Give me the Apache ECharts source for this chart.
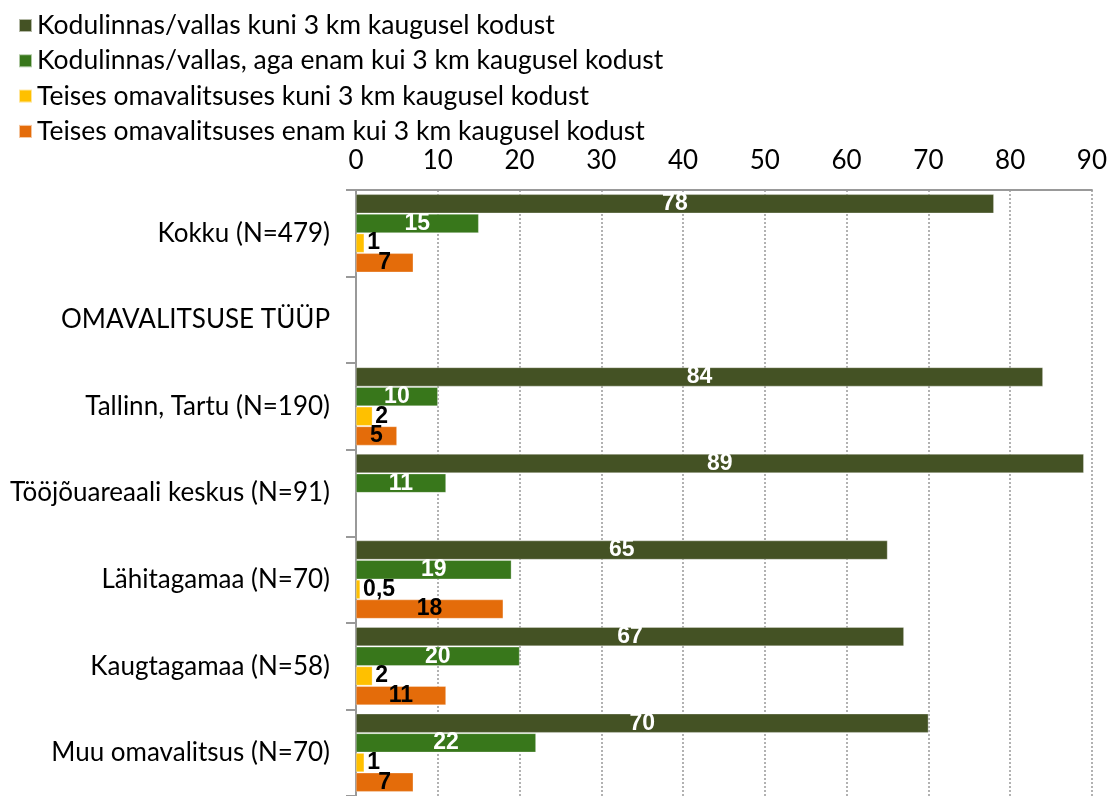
<!DOCTYPE html>
<html><head><meta charset="utf-8">
<script src="https://cdn.jsdelivr.net/npm/echarts@6/dist/echarts.min.js"></script>
<style>html,body{margin:0;padding:0;background:#fff}#c{width:1110px;height:796px}</style>
</head><body><div id="c"></div>
<script>
const categories = ["Kokku (N=479)", "OMAVALITSUSE TÜÜP", "Tallinn, Tartu (N=190)", "Tööjõuareaali keskus (N=91)", "Lähitagamaa (N=70)", "Kaugtagamaa (N=58)", "Muu omavalitsus (N=70)"];
const seriesNames = ["Kodulinnas/vallas kuni 3 km kaugusel kodust", "Kodulinnas/vallas, aga enam kui 3 km kaugusel kodust", "Teises omavalitsuses kuni 3 km kaugusel kodust", "Teises omavalitsuses enam kui 3 km kaugusel kodust"];
const s1 = [78, '-', 84, 89, 65, 67, 70];
const s2 = [15, '-', 10, 11, 19, 20, 22];
const s3 = [1, '-', 2, '-', 0.5, 2, 1];
const s4 = [7, '-', 5, '-', 18, 11, 7];
const xTicks = [0, 10, 20, 30, 40, 50, 60, 70, 80, 90];
const colors = ["#445224", "#38771b", "#ffc000", "#e46c0a"];

const chart = echarts.init(document.getElementById('c'));
const fmt = p => String(p.value).replace('.', ',');
function mk(i, data, labelColor, pos) {
  return {
    name: seriesNames[i], type: 'bar', data: data,
    barGap: '4%', barCategoryGap: '10%',
    itemStyle: {color: colors[i], borderColor: 'rgba(255,255,255,0.6)', borderWidth: 0.5},
    label: {show: true, position: pos, formatter: fmt, distance: 3,
      color: labelColor, fontFamily: 'Arial', fontWeight: 'bold', fontSize: 23},
    animation: false
  };
}
chart.setOption({
  animation: false,
  color: colors,
  legend: {
    orient: 'vertical', left: 18, top: 12, padding: 0, itemWidth: 13, itemHeight: 13, itemGap: 8.3,
    icon: 'rect',
    textStyle: {fontFamily: 'Lato', fontSize: 26.5, color: '#000'},
    data: seriesNames
  },
  grid: {left: 356, top: 190, width: 737, height: 612},
  xAxis: {
    type: 'value', position: 'top', min: 0, max: 90, interval: 10,
    axisLine: {show: true, lineStyle: {color: '#999', width: 2}},
    axisTick: {show: false},
    axisLabel: {color: '#000', fontFamily: 'Lato', fontSize: 26, margin: 16,
      formatter: v => xTicks.includes(v) ? String(v) : ''},
    splitLine: {show: true, lineStyle: {color: '#999', type: [2, 2], width: 1.5}}
  },
  yAxis: {
    type: 'category', inverse: true, data: categories,
    axisLine: {show: true, lineStyle: {color: '#999', width: 2}},
    axisTick: {show: true, length: 10, lineStyle: {color: '#999', width: 2}},
    axisLabel: {color: '#000', fontFamily: 'Lato', fontSize: 26, margin: 26},
    splitLine: {show: false}
  },
  series: [
    mk(0, s1, '#fff', 'inside'),
    mk(1, s2, '#fff', 'inside'),
    mk(2, s3, '#000', 'right'),
    mk(3, s4, '#000', 'inside')
  ]
});
</script></body></html>
